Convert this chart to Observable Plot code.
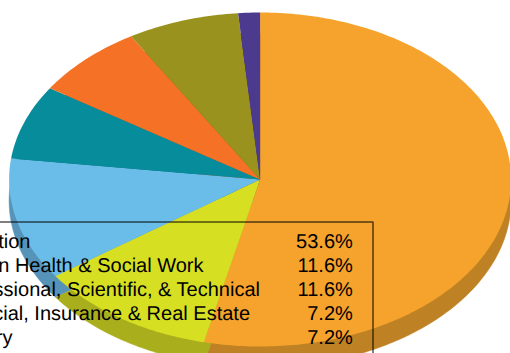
<!DOCTYPE html>
<html>
<head>
<meta charset="utf-8">
<script src="https://cdn.jsdelivr.net/npm/d3@7"></script>
<script src="https://cdn.jsdelivr.net/npm/@observablehq/plot@0.6"></script>
<style>html,body{margin:0;padding:0;background:#fff}svg{display:block}svg text{text-rendering:geometricPrecision}</style>
</head>
<body>
<div id="chart"></div>
<script>
const sectors = ["Education","Human Health & Social Work","Professional, Scientific, & Technical","Financial, Insurance & Real Estate","Forestry","Other","Remainder"];
const shares = [53.6, 11.6, 11.8, 7.2, 7.2, 7.2, 1.4];
const tops = ["#f5a32c","#d7df23","#6bbde9","#078c9b","#f47125","#9a921e","#4c3a8f"];
const sides = ["#be8124","#a9ae1c","#5593b8","#056d79","#be581d","#787117","#3b2d6f"];
const tableLabels = sectors.slice(0, 5);
const tableValues = ["53.6%","11.6%","11.6%","7.2%","7.2%"];

// layout (styling, in pixels)
const W = 510, H = 353, cx = 259.6, cy = 179, rx = 251, ry = 167, depth = 21;
const xPx = px => (px - cx) / rx;
const yPx = py => (cy - py) / ry;
const labelEnds = [30, 203, 259.5, 249.5, 12];
const valueEnd = 352.3;
const rowBase = i => 247 + i * 24.1;

// build wedge outlines in unit-circle space from the share values
const wedges = [];
let acc = 0;
shares.forEach((v, k) => {
  const a0 = acc / 100 * 2 * Math.PI, a1 = (acc + v) / 100 * 2 * Math.PI;
  acc += v;
  const n = Math.max(4, Math.ceil(v * 4));
  wedges.push({k, u: 0, v: 0});
  for (let i = 0; i <= n; i++) {
    const a = a0 + (a1 - a0) * i / n;
    wedges.push({k, u: Math.sin(a), v: Math.cos(a)});
  }
});
const dv = depth / ry;
const rows = tableLabels.map((label, i) => ({label, value: tableValues[i], i}));

const chart = Plot.plot({
  width: W, height: H,
  margin: 0,
  x: {domain: [xPx(0), xPx(W)], range: [0, W], axis: null},
  y: {domain: [yPx(H), yPx(0)], range: [H, 0], axis: null},
  marks: [
    Plot.line(wedges, {x: "u", y: d => d.v - dv, z: "k", curve: "linear-closed",
      fill: d => sides[d.k], stroke: d => sides[d.k], strokeWidth: 0.5}),
    Plot.line(wedges, {x: "u", y: "v", z: "k", curve: "linear-closed",
      fill: d => tops[d.k], stroke: "none"}),
    Plot.ruleY([yPx(221.5)], {x1: xPx(-5), x2: xPx(372.5), stroke: "#000", strokeWidth: 1}),
    Plot.ruleX([xPx(372.5)], {y1: yPx(221.5), y2: yPx(H + 5), stroke: "#000", strokeWidth: 1}),
    Plot.text(rows, {x: d => xPx(labelEnds[d.i]), y: d => yPx(rowBase(d.i)), text: "label",
      textAnchor: "end", fontSize: 20, fill: "#000", lineAnchor: "bottom"}),
    Plot.text(rows, {x: () => xPx(valueEnd), y: d => yPx(rowBase(d.i)), text: "value",
      textAnchor: "end", fontSize: 20, fill: "#000", lineAnchor: "bottom"})
  ],
  style: {fontFamily: "'Liberation Sans', Arial, sans-serif", background: "#fff"}
});
document.getElementById("chart").append(chart);
</script>
</body>
</html>
